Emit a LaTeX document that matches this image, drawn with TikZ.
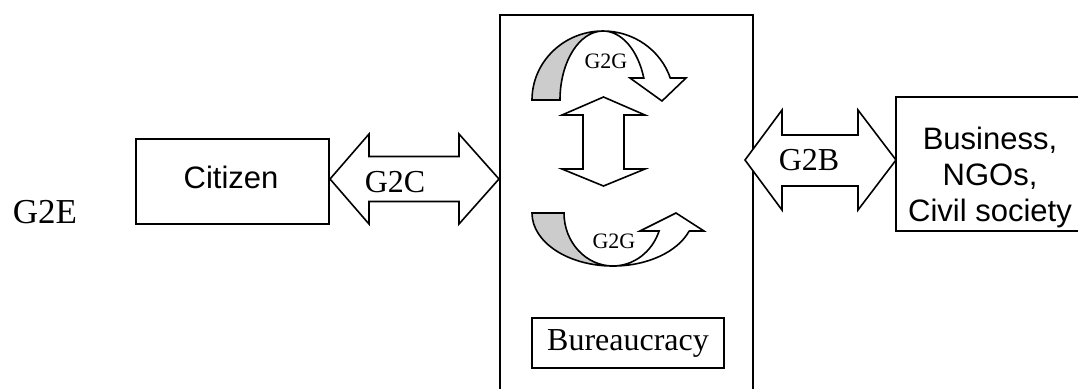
\documentclass[tikz,border=0pt]{standalone}
\usepackage{fontspec}
\setmainfont{Liberation Serif}
\setsansfont{Liberation Sans}
\begin{document}
\begin{tikzpicture}[x=0.5pt,y=-0.5pt,line width=0.8pt]
\tikzstyle{every node}+=[inner sep=0pt]
\tikzstyle{box}=[draw, black]
\tikzstyle{blockarrow}=[draw, black, fill=white, line join=miter]
\tikzstyle{band}=[draw, black, fill=gray!40]
\tikzstyle{bigsans}=[font=\sffamily\fontsize{15.5}{18}\selectfont]
\tikzstyle{bigserif}=[font=\fontsize{16}{19}\selectfont]
\clip (0,0) rectangle (1078,388);
% boxes
\draw (626.5,210) node[box, minimum width=126.5pt, minimum height=195pt] (frame) {};
\draw (232.5,181.5) node[box, minimum width=96.5pt, minimum height=42.5pt] (citizen) {};
\draw (231,188) node[bigsans, anchor=base] (citizenlbl) {Citizen};
\draw (990.5,164) node[box, minimum width=94.5pt, minimum height=67pt] (business) {};
\draw (990,177) node[bigsans, align=center] (businesslbl) {Business,\\NGOs,\\Civil society};
\draw (628,343) node[box, minimum width=96pt, minimum height=25pt] (bureau) {};
\draw (628,350) node[bigserif, anchor=base] (bureaulbl) {Bureaucracy};
\draw (45,223) node[font=\fontsize{17.5}{20}\selectfont, anchor=base] (g2e) {G2E};
% G2C
\draw [blockarrow] (330,179) -- (369,134) -- (369,156.5) -- (459,156.5) -- (459,134) -- (499,179)
  -- (459,224) -- (459,201.5) -- (369,201.5) -- (369,224) -- cycle;
\draw (395,192) node[bigserif, anchor=base] (g2c) {G2C};
% G2B
\draw [blockarrow] (745,160) -- (782,110) -- (782,135) -- (858,135) -- (858,110) -- (896,160)
  -- (858,210) -- (858,186) -- (782,186) -- (782,210) -- cycle;
\draw (809,170) node[bigserif, anchor=base] (g2b) {G2B};
% up-down arrow
\draw [blockarrow] (603.5,97) -- (645,115) -- (624,115) -- (624,169) -- (645,169) -- (603.5,186)
  -- (562,169) -- (583,169) -- (583,115) -- (562,115) -- cycle;
% upper G2G
\draw [band] (532,100) arc[start angle=180, end angle=270, x radius=71, y radius=69]
  arc[start angle=270, end angle=180, x radius=43, y radius=69] -- cycle;
\draw [blockarrow] (603,31) arc[start angle=270, end angle=341.4, x radius=71, y radius=69]
  -- (686,78) -- (662,101) -- (630,78) -- (643.8,78)
  arc[start angle=341.4, end angle=270, x radius=43, y radius=69] -- cycle;
\draw (606,68) node[font=\fontsize{11}{13}\selectfont, anchor=base] (g2gup) {G2G};
% lower G2G
\draw [band] (532,213) arc[start angle=180, end angle=90, x radius=81, y radius=53]
  arc[start angle=90, end angle=180, x radius=49, y radius=53] -- cycle;
\draw [blockarrow] (613,266) arc[start angle=90, end angle=19.9, x radius=81, y radius=53]
  -- (704,231) -- (676,213) -- (640,231) -- (659.1,231)
  arc[start angle=19.9, end angle=90, x radius=49, y radius=53] -- cycle;
\draw (614,248) node[font=\fontsize{11}{13}\selectfont, anchor=base] (g2gdown) {G2G};
\end{tikzpicture}
\end{document}
